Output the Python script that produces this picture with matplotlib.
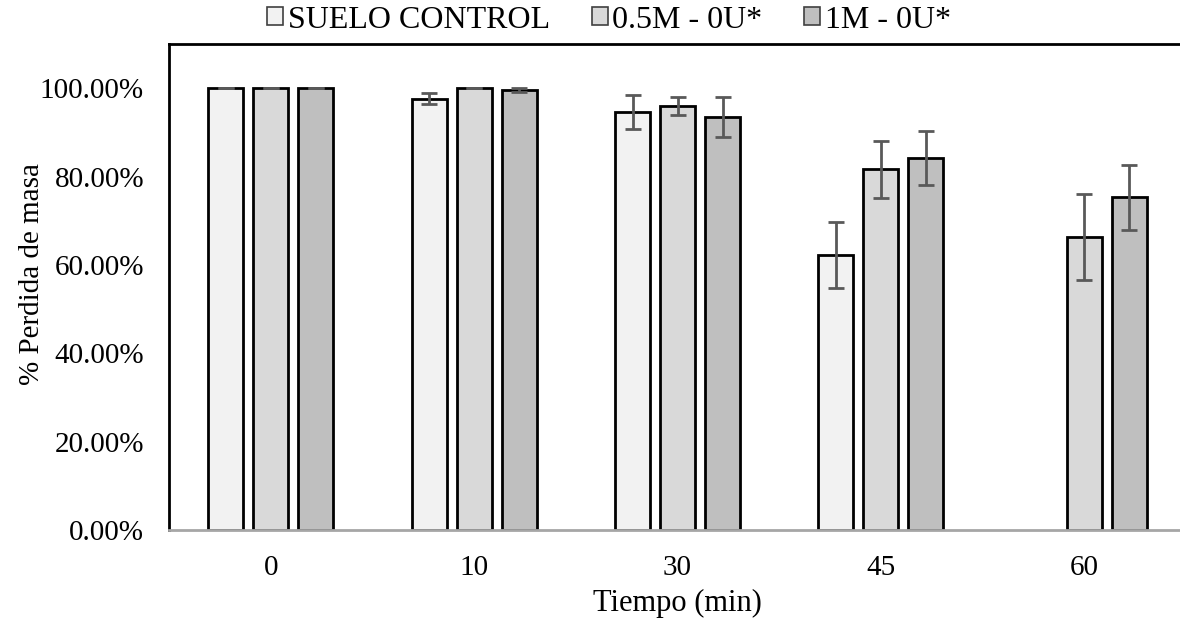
import matplotlib
matplotlib.use("Agg")
import matplotlib.pyplot as plt
import numpy as np
from matplotlib.ticker import FuncFormatter
from matplotlib.patches import Patch

categories = ["0", "10", "30", "45", "60"]
series_names = ["SUELO CONTROL", "0.5M - 0U*", "1M - 0U*"]
control = [1.000, 0.976, 0.946, 0.622, np.nan]
m05 = [1.000, 1.000, 0.960, 0.816, 0.663]
m1 = [1.000, 0.996, 0.935, 0.841, 0.753]
control_err = [0.0, 0.012, 0.038, 0.075, np.nan]
m05_err = [0.0, 0.0, 0.020, 0.065, 0.098]
m1_err = [0.0, 0.004, 0.045, 0.061, 0.074]

colors = ["#F2F2F2", "#D9D9D9", "#BFBFBF"]

plt.rcParams['font.family'] = ['Liberation Serif', 'DejaVu Serif']

fig = plt.figure(figsize=(11.8, 6.22), dpi=100)
W, H = 1180, 622
left, right, top, bottom = 169, 1186, 44, 530
ax = fig.add_axes([left / W, 1 - bottom / H, (right - left) / W, (bottom - top) / H])

x = np.arange(len(categories))
bw = 35 / 203.4
step = 45 / 203.4
values = [control, m05, m1]
errs = [control_err, m05_err, m1_err]
for i, (v, e, c) in enumerate(zip(values, errs, colors)):
    ax.bar(x + (i - 1) * step, v, width=bw, color=c, edgecolor="black",
           linewidth=2, zorder=2)
    ax.errorbar(x + (i - 1) * step, v, yerr=e, fmt="none", ecolor="#595959",
                elinewidth=2, capsize=6, capthick=2, zorder=3)

ax.set_xlim(-0.5, len(categories) - 0.5)
ax.set_ylim(0, 1.10)
ax.set_yticks([0, 0.2, 0.4, 0.6, 0.8, 1.0])
ax.yaxis.set_major_formatter(FuncFormatter(lambda v, p: f"{v*100:.2f}%"))
ax.set_xticks(x)
ax.set_xticklabels(categories)
ax.tick_params(axis="both", length=0, labelsize=21, colors="black")
ax.tick_params(axis="y", pad=18)
ax.tick_params(axis="x", pad=18)

for s in ["left", "top", "right"]:
    ax.spines[s].set_color("black")
    ax.spines[s].set_linewidth(2)
ax.spines["bottom"].set_color("#A6A6A6")
ax.spines["bottom"].set_linewidth(2)

ax.set_xlabel("Tiempo (min)", fontsize=22, labelpad=6)
ax.set_ylabel("% Perdida de masa", fontsize=21)
ax.yaxis.set_label_coords((45 - left) / (right - left), (bottom - 274) / (bottom - top))

handles = [Patch(facecolor=c, edgecolor="#404040", linewidth=1.2) for c in colors]
fig.legend(handles, series_names, loc="center", bbox_to_anchor=(609 / W, 1 - 20 / H),
           ncol=3, frameon=False, fontsize=23, handlelength=0.5, handleheight=0.5,
           handletextpad=0.15, columnspacing=1.3, borderpad=0)

fig.savefig("out.png", dpi=100)
